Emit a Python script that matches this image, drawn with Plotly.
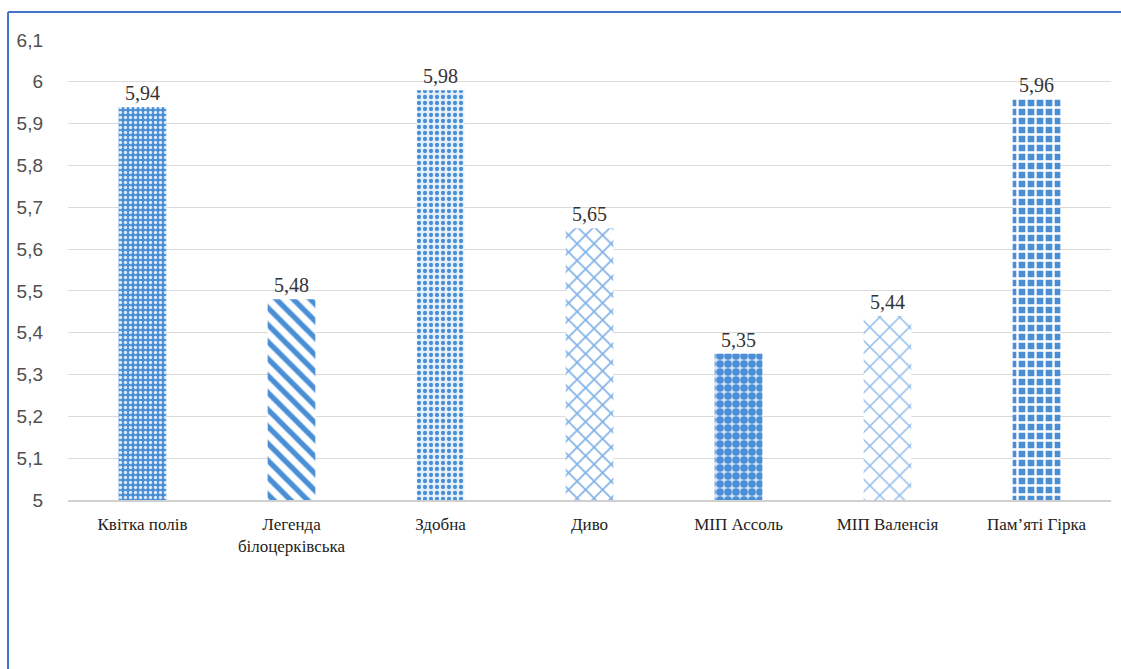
import plotly.graph_objects as go

categories = ["Квітка полів", "Легенда<br>білоцерківська", "Здобна", "Диво",
              "МІП Ассоль", "МІП Валенсія", "Пам’яті Гірка"]
values = [5.94, 5.48, 5.98, 5.65, 5.35, 5.44, 5.96]
y_ticks = [5.0, 5.1, 5.2, 5.3, 5.4, 5.5, 5.6, 5.7, 5.8, 5.9, 6.0, 6.1]
y_tick_labels = ["5", "5,1", "5,2", "5,3", "5,4", "5,5", "5,6", "5,7", "5,8", "5,9", "6", "6,1"]

BLUE = "#4a8fd6"
patterns = [
    dict(shape=".", fgcolor="#dbe9f8", bgcolor=BLUE, size=5, solidity=0.35, fillmode="replace"),
    dict(shape="\\", fgcolor=BLUE, bgcolor="white", size=12, solidity=0.45, fillmode="replace"),
    dict(shape=".", fgcolor=BLUE, bgcolor="#e6f0fb", size=6, solidity=0.4, fillmode="replace"),
    dict(shape="x", fgcolor="#7fb1e6", bgcolor="white", size=12, solidity=0.25, fillmode="replace"),
    dict(shape=".", fgcolor=BLUE, bgcolor="#cfe2f6", size=8, solidity=0.7, fillmode="replace"),
    dict(shape="x", fgcolor="#8dbbea", bgcolor="white", size=14, solidity=0.2, fillmode="replace"),
    dict(shape="+", fgcolor="white", bgcolor=BLUE, size=9, solidity=0.45, fillmode="replace"),
]

fig = go.Figure()
for cat, val, pat in zip(categories, values, patterns):
    fig.add_trace(go.Bar(
        x=[cat], y=[val],
        marker=dict(color=BLUE, pattern=pat, line=dict(width=0)),
        text=[f"{val:.2f}".replace(".", ",")],
        textposition="outside",
        textfont=dict(family="Liberation Serif", size=20, color="#333333"),
        cliponaxis=False,
        showlegend=False,
    ))

fig.update_layout(
    width=1121, height=669,
    margin=dict(l=68, r=10, t=40, b=169),
    paper_bgcolor="white", plot_bgcolor="white",
    bargap=0.68,
    xaxis=dict(
        type="category",
        tickfont=dict(family="Liberation Serif", size=17, color="#222222"),
        showline=True, linecolor="#d0d0d0", linewidth=1.5,
        ticks="", ticklabelstandoff=8,
    ),
    yaxis=dict(
        range=[5.0, 6.1],
        tickvals=y_ticks, ticktext=y_tick_labels,
        tickfont=dict(family="Liberation Sans", size=19, color="#505050"),
        showgrid=True, gridcolor="#dadada", gridwidth=1.2,
        zeroline=False, showline=False, ticks="",
        ticklabelstandoff=24,
    ),
    shapes=[
        dict(type="line", xref="paper", yref="paper", x0=-0.0575, x1=1.02, y0=1.0609, y1=1.0609,
             line=dict(color="#4472c4", width=2)),
        dict(type="line", xref="paper", yref="paper", x0=-0.0575, x1=-0.0575, y0=1.0609, y1=-0.4,
             line=dict(color="#4472c4", width=2)),
    ],
)

fig.write_html("out.html")
